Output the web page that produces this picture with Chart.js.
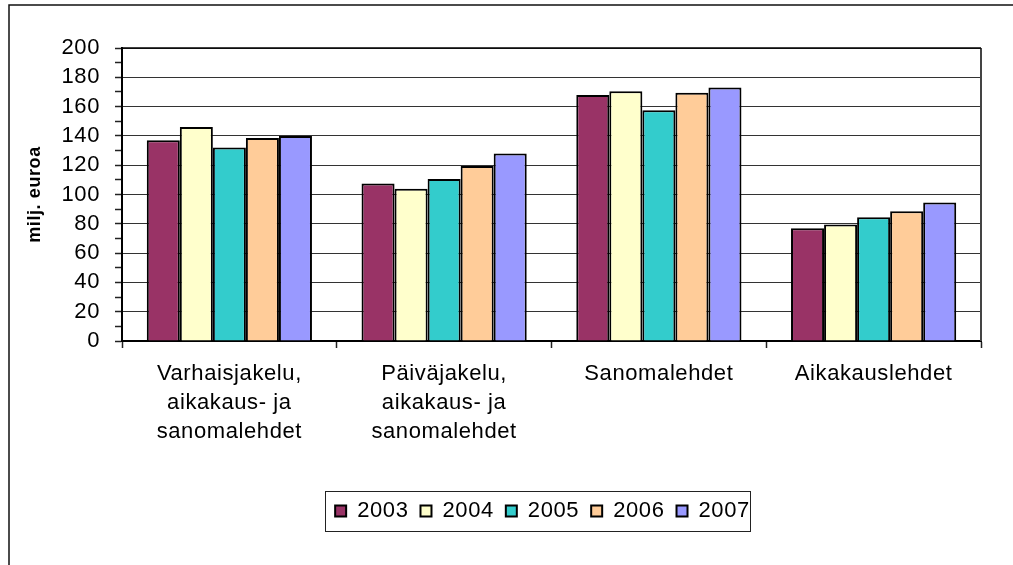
<!DOCTYPE html>
<html>
<head>
<meta charset="utf-8">
<script src="https://cdn.jsdelivr.net/npm/chart.js@4/dist/chart.umd.min.js"></script>
<style>
  html, body { margin: 0; padding: 0; background: #fff; }
  canvas { display: block; }
</style>
</head>
<body>
<canvas id="c" width="1013" height="565"></canvas>
<script>
const categories = [
  ['Varhaisjakelu,', 'aikakaus- ja', 'sanomalehdet'],
  ['Päiväjakelu,', 'aikakaus- ja', 'sanomalehdet'],
  'Sanomalehdet',
  'Aikakauslehdet'
];
const years = ['2003', '2004', '2005', '2006', '2007'];
const v2003 = [137, 107.5, 168, 77];
const v2004 = [146, 104, 170.5, 79.5];
const v2005 = [132, 110.5, 157.5, 84.5];
const v2006 = [138.5, 119.5, 169.5, 88.5];
const v2007 = [140, 128, 173, 94.5];
const yTicksMajor = [0, 20, 40, 60, 80, 100, 120, 140, 160, 180, 200];
const axisTitle = 'milj. euroa';

const seriesValues = [v2003, v2004, v2005, v2006, v2007];
const colors = ['#993366', '#FFFFCC', '#33CCCC', '#FFCC99', '#9999FF'];
const FONT = "'Liberation Sans', Arial, sans-serif";

const decor = {
  id: 'decor',
  beforeDraw(chart) {
    const ctx = chart.ctx;
    ctx.save();
    ctx.fillStyle = '#fff';
    ctx.fillRect(0, 0, chart.width, chart.height);
    ctx.strokeStyle = '#111';
    ctx.lineWidth = 1.5;
    ctx.strokeRect(9, 5, chart.width + 20, chart.height + 20);
    ctx.restore();
    ctx.letterSpacing = '0.6px';
  },
  afterLayout(chart) {
    const lg = chart.legend;
    if (lg) { lg.left += 41; lg.right += 41; }
  },
  beforeDatasetsDraw(chart) {
    const ctx = chart.ctx, a = chart.chartArea;
    ctx.save();
    ctx.strokeStyle = '#444';
    ctx.lineWidth = 2;
    ctx.beginPath();
    ctx.moveTo(a.right, a.top);
    ctx.lineTo(a.right, a.bottom);
    ctx.stroke();
    ctx.strokeStyle = '#000';
    ctx.lineWidth = 1.5;
    ctx.beginPath();
    ctx.moveTo(a.left, a.top);
    ctx.lineTo(a.right, a.top);
    ctx.stroke();
    ctx.restore();
  },
  afterDraw(chart) {
    const lg = chart.legend;
    if (!lg || !lg.legendHitBoxes.length) return;
    const hb = lg.legendHitBoxes;
    const first = hb[0], last = hb[hb.length - 1];
    const cy = first.top + first.height / 2;
    const ctx = chart.ctx;
    ctx.save();
    ctx.strokeStyle = '#222';
    ctx.lineWidth = 1;
    const x0 = Math.round(first.left - 10) + 0.5;
    const x1 = Math.round(last.left + last.width + 12) + 0.5;
    const y0 = Math.round(cy - 20) + 0.5;
    const y1 = Math.round(cy + 20) + 0.5;
    ctx.strokeRect(x0, y0, x1 - x0, y1 - y0);
    ctx.restore();
  }
};

new Chart(document.getElementById('c'), {
  type: 'bar',
  data: {
    labels: categories,
    datasets: years.map((y, i) => ({
      label: y,
      data: seriesValues[i],
      backgroundColor: colors[i],
      borderColor: '#000',
      borderWidth: 2,
      barPercentage: 1,
      categoryPercentage: 5 / 6.5
    }))
  },
  options: {
    responsive: false,
    animation: false,
    devicePixelRatio: 1,
    layout: { padding: { left: 10, top: 48, right: 32, bottom: 33 } },
    plugins: {
      title: { display: false },
      tooltip: { enabled: false },
      legend: {
        position: 'bottom',
        labels: {
          boxWidth: 11,
          boxHeight: 11,
          padding: 12,
          color: '#000',
          font: { family: FONT, size: 22 }
        }
      }
    },
    scales: {
      x: {
        afterFit: s => { s.height = 147; },
        grid: {
          offset: true,
          drawOnChartArea: false,
          tickLength: 7,
          tickColor: '#222',
          tickWidth: 1.5
        },
        border: { color: '#000', width: 2 },
        ticks: {
          color: '#000',
          padding: 12,
          autoSkip: false,
          maxRotation: 0,
          font: { family: FONT, size: 22, lineHeight: 1.3 }
        }
      },
      y: {
        min: 0,
        max: 200,
        afterFit: s => { s.width = 112; },
        afterBuildTicks: s => {
          const t = [];
          for (let v = 0; v <= 200; v += 10) t.push({ value: v });
          s.ticks = t;
        },
        grid: {
          color: c => (c.tick && yTicksMajor.includes(c.tick.value)) ? '#333' : 'rgba(0,0,0,0)',
          tickColor: '#222',
          tickLength: 7,
          lineWidth: 1,
          tickWidth: 1.5
        },
        border: { color: '#000', width: 2 },
        ticks: {
          color: '#000',
          padding: 15,
          autoSkip: false,
          callback: v => yTicksMajor.includes(v) ? String(v) : '',
          font: { family: FONT, size: 22 }
        },
        title: {
          display: true,
          text: axisTitle,
          color: '#000',
          padding: { top: 14, bottom: 0 },
          font: { family: FONT, size: 18, weight: 'bold', lineHeight: 1.2 }
        }
      }
    }
  },
  plugins: [decor]
});
</script>
</body>
</html>
